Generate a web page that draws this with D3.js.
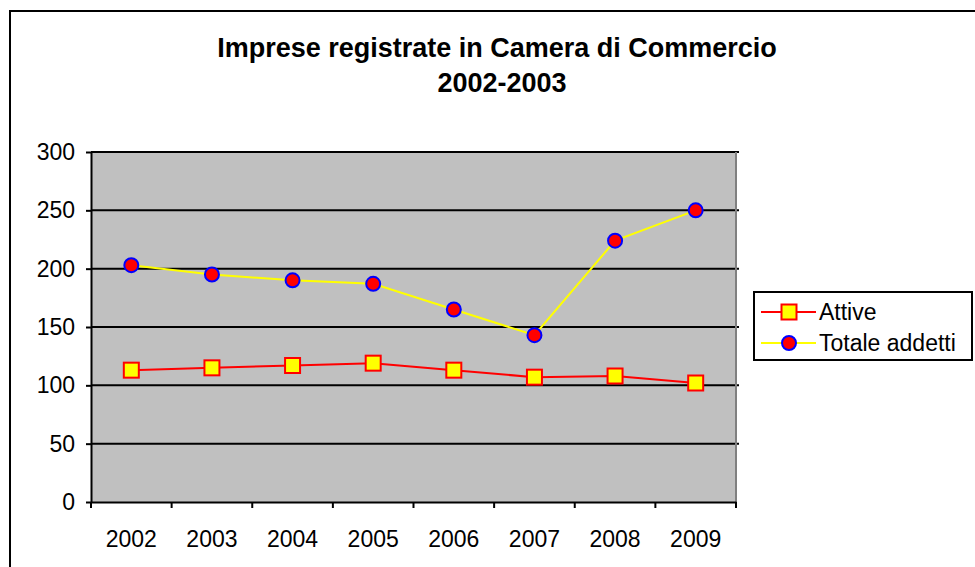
<!DOCTYPE html>
<html>
<head>
<meta charset="utf-8">
<script src="https://cdn.jsdelivr.net/npm/d3@7"></script>
<style>
  body { margin: 0; background: #fff; }
  text { font-family: "Liberation Sans", Arial, sans-serif; }
</style>
</head>
<body>
<div id="chart"></div>
<script>
// chart values
let years = ["2002", "2003", "2004", "2005", "2006", "2007", "2008", "2009"];
let attive = [113, 115, 117, 119, 113, 107, 108, 102];
let totaleAddetti = [203, 195, 190, 187, 165, 143, 224, 250];
let yTicks = [0, 50, 100, 150, 200, 250, 300];
let titleLines = ["Imprese registrate in Camera di Commercio", "2002-2003"];

let W = 975, H = 567;
let plot = {left: 91, right: 736, top: 152, bottom: 502};

let svg = d3.select("#chart")
  .append("svg")
  .attr("width", W)
  .attr("height", H);

// outer chart border (runs off the right and bottom of the page)
svg.append("rect")
  .attr("x", 10).attr("y", 11)
  .attr("width", 980).attr("height", 600)
  .style("fill", "#fff")
  .style("stroke", "#000")
  .style("stroke-width", 2);

// title
svg.append("text")
  .attr("x", 497).attr("y", 57)
  .attr("text-anchor", "middle")
  .style("font-size", "27px").style("font-weight", "bold")
  .text(titleLines[0]);
svg.append("text")
  .attr("x", 502).attr("y", 92)
  .attr("text-anchor", "middle")
  .style("font-size", "27px").style("font-weight", "bold")
  .text(titleLines[1]);

let x = d3.scaleBand()
  .domain(years)
  .range([plot.left, plot.right]);

let y = d3.scaleLinear()
  .domain([0, 300])
  .range([plot.bottom, plot.top]);

// plot area
svg.append("rect")
  .attr("x", plot.left).attr("y", plot.top)
  .attr("width", plot.right - plot.left)
  .attr("height", plot.bottom - plot.top)
  .style("fill", "#c0c0c0");

// gridlines
svg.append("g")
  .selectAll("line")
  .data(yTicks.filter(d => d > 0))
  .enter().append("line")
    .attr("x1", plot.left).attr("x2", plot.right + 3)
    .attr("y1", d => y(d)).attr("y2", d => y(d))
    .style("stroke", "#000").style("stroke-width", 2);

svg.append("line")
  .attr("x1", plot.right).attr("x2", plot.right)
  .attr("y1", plot.top).attr("y2", plot.bottom)
  .style("stroke", "#808080").style("stroke-width", 2);

// Y axis
let yAxis = svg.append("g")
  .attr("transform", "translate(" + plot.left + ",0)")
  .call(d3.axisLeft(y).tickValues(yTicks).tickSize(5).tickPadding(11).tickSizeOuter(0));

// X axis, ticks between categories
let xAxis = svg.append("g")
  .attr("transform", "translate(0," + plot.bottom + ")")
  .call(d3.axisBottom(x).tickSize(0).tickPadding(29).tickSizeOuter(0));

let bounds = years.map(d => x(d)).concat([plot.right]);
xAxis.selectAll(".sep")
  .data(bounds)
  .enter().append("line")
    .attr("class", "sep")
    .attr("x1", d => d).attr("x2", d => d)
    .attr("y1", 0).attr("y2", 6)
    .style("stroke", "#000").style("stroke-width", 2);

[yAxis, xAxis].forEach(a => {
  a.selectAll("path.domain").style("stroke", "#000").style("stroke-width", 2);
  a.selectAll(".tick line").style("stroke", "#000").style("stroke-width", 2);
  a.selectAll("text")
    .style("font-family", "'Liberation Sans', Arial, sans-serif")
    .style("font-size", "23px")
    .style("fill", "#000");
});

let cx = d => x(d) + x.bandwidth() / 2;

// Totale addetti line
svg.append("path")
  .datum(totaleAddetti)
  .attr("d", d3.line().x((d, i) => cx(years[i])).y(d => y(d)))
  .style("fill", "none").style("stroke", "#ffff00").style("stroke-width", 2);

svg.append("g")
  .selectAll("circle")
  .data(totaleAddetti)
  .enter().append("circle")
    .attr("cx", (d, i) => cx(years[i]))
    .attr("cy", d => y(d))
    .attr("r", 7)
    .style("fill", "#ff0000").style("stroke", "#0000ff").style("stroke-width", 2);

// Attive line
svg.append("path")
  .datum(attive)
  .attr("d", d3.line().x((d, i) => cx(years[i])).y(d => y(d)))
  .style("fill", "none").style("stroke", "#ff0000").style("stroke-width", 2);

svg.append("g")
  .selectAll("rect")
  .data(attive)
  .enter().append("rect")
    .attr("x", (d, i) => cx(years[i]) - 7.5)
    .attr("y", d => y(d) - 7.5)
    .attr("width", 15).attr("height", 15)
    .style("fill", "#ffff00").style("stroke", "#ff0000").style("stroke-width", 2);

// legend
let legend = svg.append("g").attr("transform", "translate(754,292)");
legend.append("rect")
  .attr("width", 218).attr("height", 68)
  .style("fill", "#fff").style("stroke", "#000").style("stroke-width", 2);

let items = [
  {name: "Attive", line: "#ff0000", shape: "square"},
  {name: "Totale addetti", line: "#ffff00", shape: "circle"}
];
items.forEach((it, i) => {
  let ly = 20 + i * 31;
  legend.append("line")
    .attr("x1", 7).attr("x2", 62)
    .attr("y1", ly).attr("y2", ly)
    .style("stroke", it.line).style("stroke-width", 2);
  if (it.shape == "square") {
    legend.append("rect")
      .attr("x", 27.5).attr("y", ly - 7.5).attr("width", 15).attr("height", 15)
      .style("fill", "#ffff00").style("stroke", "#ff0000").style("stroke-width", 2);
  } else {
    legend.append("circle")
      .attr("cx", 35).attr("cy", ly).attr("r", 7)
      .style("fill", "#ff0000").style("stroke", "#0000ff").style("stroke-width", 2);
  }
  legend.append("text")
    .attr("x", 65).attr("y", ly + 8)
    .style("font-size", "23px")
    .text(it.name);
});
</script>
</body>
</html>
